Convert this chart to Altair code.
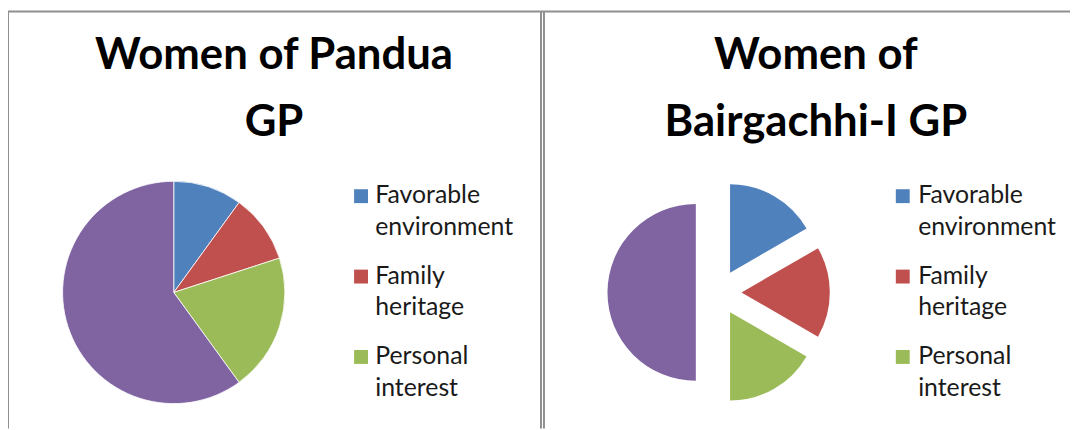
import math
import altair as alt
import pandas as pd

# ---- data ----
categories = ["Favorable environment", "Family heritage", "Personal interest", "Other"]
pandua_values = [10, 10, 20, 60]
bairgachhi_values = [16.67, 16.67, 16.66, 50]
colors = ["#4F81BD", "#C0504D", "#9BBB59", "#8064A2"]
legend_categories = categories[:3]
title_left = ["Women of Pandua", "GP"]
title_right = ["Women of", "Bairgachhi-I GP"]

W, H = 1070, 422
BORDER = "#8f8f8f"
FONT = "Lato"

color_scale = alt.Scale(domain=categories, range=colors)
one = alt.Data(values=[{}])

df_left = pd.DataFrame({"category": categories, "value": pandua_values,
                        "idx": list(range(len(categories)))})
df_right = pd.DataFrame({"category": categories, "value": bairgachhi_values,
                         "idx": list(range(len(categories)))})
df_legend = pd.DataFrame({"category": legend_categories})

# ---- left pie ----
left_pie = alt.Chart(df_left).mark_arc(outerRadius=112, stroke="white", strokeWidth=0.8).encode(
    theta=alt.Theta("value:Q", stack=True),
    color=alt.Color("category:N", scale=color_scale, legend=None),
    order=alt.Order("idx:Q"),
    x=alt.value(167), y=alt.value(285),
)

# ---- right pie (exploded) ----
total_r = sum(bairgachhi_values)
explode = 23
right_layers = []
cum = 0.0
for i, cat in enumerate(categories):
    v = bairgachhi_values[i]
    mid = (cum + v / 2) / total_r * 2 * math.pi
    cum += v
    dx = explode * math.sin(mid)
    dy = -explode * math.cos(mid)
    layer = alt.Chart(df_right).transform_window(
        end="sum(value)", sort=[alt.SortField("idx")], frame=[None, 0]
    ).transform_calculate(
        start="datum.end - datum.value"
    ).transform_filter(
        alt.datum.category == cat
    ).mark_arc(outerRadius=89, xOffset=dx, yOffset=dy).encode(
        theta=alt.Theta("start:Q", scale=alt.Scale(domain=[0, total_r])),
        theta2=alt.Theta2("end:Q"),
        color=alt.Color("category:N", scale=color_scale, legend=None),
        x=alt.value(716), y=alt.value(285),
    )
    right_layers.append(layer)

# ---- titles ----
def title(lines, cx):
    return alt.Chart(one).mark_text(
        text=lines, font=FONT, fontWeight="bold", fontSize=44, lineHeight=67,
        align="center", baseline="alphabetic", color="black",
    ).encode(x=alt.value(cx), y=alt.value(60))

# ---- legends ----
ys = alt.Y("category:N", sort=legend_categories, axis=None,
           scale=alt.Scale(range=[188, 350], padding=0))

def legend(sq_x, tx_x):
    sq = alt.Chart(df_legend).mark_square(size=196, opacity=1).encode(
        x=alt.value(sq_x), y=ys,
        color=alt.Color("category:N", scale=color_scale, legend=None),
    )
    tx = alt.Chart(df_legend).mark_text(
        font=FONT, fontSize=25, lineBreak=" ", lineHeight=32, align="left",
        baseline="alphabetic", dy=7, color="#1a1a1a",
    ).encode(x=alt.value(tx_x), y=ys, text="category:N")
    return [sq, tx]

# ---- panel borders ----
def hrule(y):
    return alt.Chart(one).mark_rule(color=BORDER, strokeWidth=2).encode(
        x=alt.value(0), x2=alt.value(W), y=alt.value(y))

def vrule(x):
    return alt.Chart(one).mark_rule(color=BORDER, strokeWidth=2).encode(
        x=alt.value(x), y=alt.value(2), y2=alt.value(H))

layers = [hrule(2), vrule(0), vrule(537), vrule(540),
          left_pie, *right_layers,
          title(title_left, 268), title(title_right, 814),
          *legend(355.7, 370), *legend(901.5, 917)]

chart = alt.layer(*layers).resolve_scale(theta="independent").properties(
    width=W, height=H, padding=0,
    autosize=alt.AutoSizeParams(type="none"),
).configure_view(stroke=None)

chart.save("out.html", embed_options={"renderer": "svg", "actions": False})
